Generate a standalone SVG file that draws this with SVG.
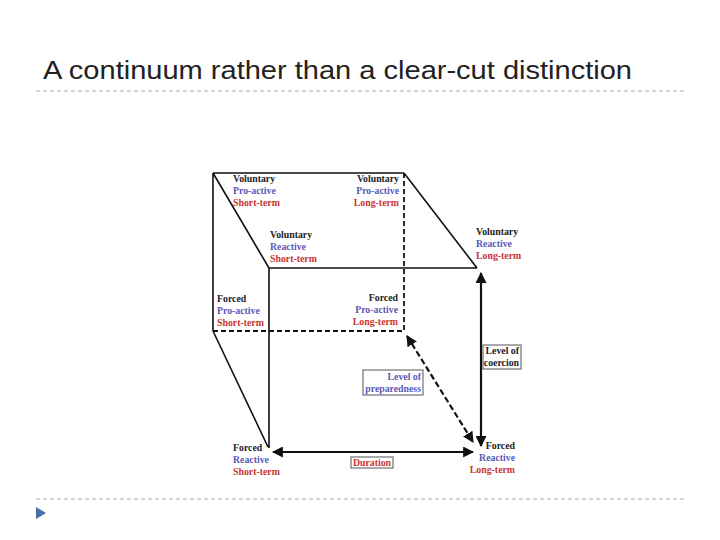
<svg xmlns="http://www.w3.org/2000/svg" width="720" height="540" viewBox="0 0 720 540">
<defs>
<style>
.t{font-family:"Liberation Serif",serif;font-weight:bold;font-size:9.8px}
.k{fill:#222}.b{fill:#5a5ab8}.r{fill:#cc3333}
.e{stroke:#111;stroke-width:1.6;fill:none}
.d{stroke:#111;stroke-width:1.8;fill:none;stroke-dasharray:5,3}
.a{stroke:#111;stroke-width:2.2;fill:none}
.box{fill:#fff;stroke:#555;stroke-width:1}
</style>
<marker id="ah" viewBox="0 0 10 10" refX="9" refY="5" markerWidth="5" markerHeight="5" orient="auto-start-reverse"><path d="M0,0L10,5L0,10z" fill="#111"/></marker>
</defs>
<rect width="720" height="540" fill="#fff"/>
<text x="43" y="79" font-family="Liberation Sans,sans-serif" font-size="25" textLength="589" lengthAdjust="spacingAndGlyphs" fill="#222">A continuum rather than a clear-cut distinction</text>
<line x1="36" y1="91" x2="686" y2="91" stroke="#aaa" stroke-dasharray="4,3"/>
<line x1="36" y1="499" x2="686" y2="499" stroke="#aaa" stroke-dasharray="4,3"/>
<polygon points="36,507 46,513 36,519" fill="#4a6fa8"/>
<g id="connectors">
<path class="e" d="M213,173H404M213,173V331M213,173L269,268M404,173L477,268M269,268H477M269,268V448M213,331L268,447"/>
<path class="d" d="M404,173V331M213,331H404"/>
<line class="a" x1="481" y1="446" x2="481" y2="273" marker-start="url(#ah)" marker-end="url(#ah)"/>
<line class="a" x1="273" y1="452" x2="473" y2="452" marker-start="url(#ah)" marker-end="url(#ah)"/>
<line class="a" x1="407" y1="336" x2="473" y2="442" stroke-width="2.6" stroke-dasharray="6,3" marker-start="url(#ah)" marker-end="url(#ah)"/>
</g>
<g id="n1" class="t"><text x="233" y="182" class="k">Voluntary</text><text x="233" y="194" class="b">Pro-active</text><text x="233" y="206" class="r">Short-term</text></g>
<g id="n2" class="t" text-anchor="end"><text x="399" y="182" class="k">Voluntary</text><text x="399" y="194" class="b">Pro-active</text><text x="399" y="206" class="r">Long-term</text></g>
<g id="n3" class="t"><text x="270" y="238" class="k">Voluntary</text><text x="270" y="250" class="b">Reactive</text><text x="270" y="262" class="r">Short-term</text></g>
<g id="n4" class="t"><text x="476" y="235" class="k">Voluntary</text><text x="476" y="247" class="b">Reactive</text><text x="476" y="259" class="r">Long-term</text></g>
<g id="n5" class="t"><text x="217" y="302" class="k">Forced</text><text x="217" y="314" class="b">Pro-active</text><text x="217" y="326" class="r">Short-term</text></g>
<g id="n6" class="t" text-anchor="end"><text x="398" y="301" class="k">Forced</text><text x="398" y="313" class="b">Pro-active</text><text x="398" y="325" class="r">Long-term</text></g>
<g id="n7" class="t"><text x="233" y="451" class="k">Forced</text><text x="233" y="463" class="b">Reactive</text><text x="233" y="475" class="r">Short-term</text></g>
<g id="n8" class="t" text-anchor="end"><text x="515" y="449" class="k">Forced</text><text x="515" y="461" class="b">Reactive</text><text x="515" y="473" class="r">Long-term</text></g>
<g id="coercion" class="t"><rect class="box" x="483" y="345" width="38" height="24"/><text x="519" y="354" text-anchor="end" class="k">Level of</text><text x="519" y="366" text-anchor="end" class="k">coercion</text></g>
<g id="preparedness" class="t"><rect class="box" x="363" y="370" width="60" height="25"/><text x="421" y="380" text-anchor="end" class="b">Level of</text><text x="421" y="392" text-anchor="end" class="b">preparedness</text></g>
<g id="duration" class="t"><rect class="box" x="351" y="457" width="42" height="11"/><text x="372" y="465.5" text-anchor="middle" class="r">Duration</text></g>
</svg>
